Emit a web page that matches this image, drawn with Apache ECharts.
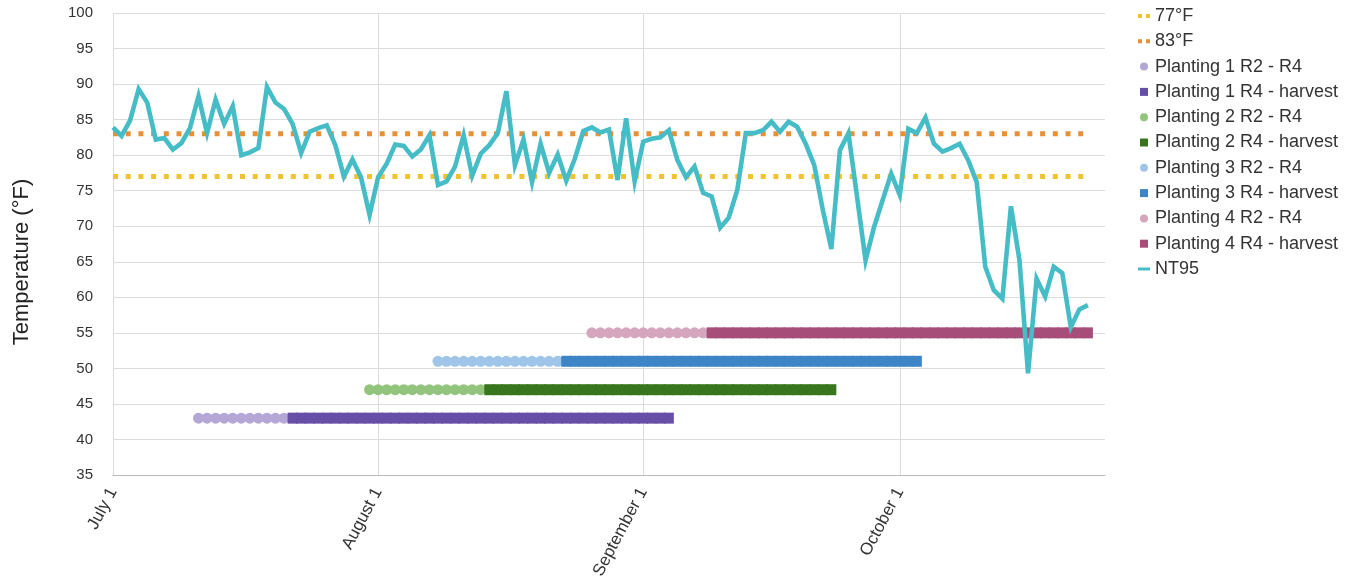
<!DOCTYPE html>
<html>
<head>
<meta charset="utf-8">
<script src="https://cdn.jsdelivr.net/npm/echarts@6/dist/echarts.min.js"></script>
<style>
html,body{margin:0;padding:0;background:#fff;}
#chart{width:1351px;height:586px;}
</style>
</head>
<body>
<div id="chart"></div>
<script>
// ---- Data ----
const startDate = '2023-07-01';
const dayCount = 117; // July 1 .. Oct 25 (category axis days)
const monthTicks = ['7/1', '8/1', '9/1', '10/1'];
const monthTickLabels = ['July 1', 'August 1', 'September 1', 'October 1'];
const yTicks = [35, 40, 45, 50, 55, 60, 65, 70, 75, 80, 85, 90, 95, 100];

const threshold77 = 77;
const threshold83 = 83;

// Daily NT95 temperature (°F), July 1 .. Oct 23
const nt95 = [
  83.9, 82.7, 84.9, 89.3, 87.4, 82.2, 82.4, 80.8, 81.7, 83.8,
  88.3, 83.1, 87.8, 84.4, 86.9, 80.0, 80.4, 81.0, 89.6, 87.4,
  86.5, 84.4, 80.3, 83.3, 83.8, 84.2, 81.4, 77.0, 79.4, 76.9,
  71.6, 76.9, 78.8, 81.5, 81.3, 79.8, 80.8, 82.8, 75.8, 76.3,
  78.4, 82.8, 77.1, 80.2, 81.4, 83.1, 89.0, 78.6, 82.2, 76.2,
  81.6, 77.5, 80.1, 76.4, 79.5, 83.4, 83.9, 83.2, 83.6, 76.5,
  85.2, 76.3, 81.9, 82.3, 82.5, 83.5, 79.3, 76.9, 78.4, 74.7,
  74.2, 69.8, 71.2, 75.1, 83.1, 83.1, 83.5, 84.7, 83.3, 84.7,
  84.0, 81.6, 78.6, 72.3, 66.8, 80.7, 83.1, 74.2, 65.2, 69.9,
  73.7, 77.4, 74.4, 83.7, 83.1, 85.3, 81.6, 80.5, 81.0, 81.6,
  79.3, 76.2, 64.3, 61.0, 59.8, 72.8, 65.2, 49.3, 62.6, 60.1,
  64.3, 63.4, 55.8, 58.3, 58.9
];

// Planting growth stages (M/D), plotted at a fixed height each
const plantingNames = ['Planting 1', 'Planting 2', 'Planting 3', 'Planting 4'];
const plantingLevel = [43, 47, 51, 55];
const r2Start = ['7/11', '7/31', '8/8', '8/26'];
const r4Start = ['7/22', '8/14', '8/23', '9/9'];
const harvestEnd = ['9/4', '9/23', '10/3', '10/23'];

const r2Colors = ['#b4a7d6', '#93c47d', '#9fc5e8', '#d5a6bd'];
const r4Colors = ['#674ea7', '#38761d', '#3d85c6', '#a64d79'];

// ---- Build categories ----
const days = [];
(function () {
  const d0 = new Date(startDate + 'T00:00:00Z');
  for (let i = 0; i < dayCount; i++) {
    const d = new Date(d0.getTime() + i * 86400000);
    days.push((d.getUTCMonth() + 1) + '/' + d.getUTCDate());
  }
})();

function stageRange(from, toExclusive, toInclusive, level) {
  const a = days.indexOf(from);
  const b = toInclusive ? days.indexOf(toExclusive) : days.indexOf(toExclusive) - 1;
  const out = [];
  for (let i = a; i <= b; i++) out.push([days[i], level]);
  return out;
}

const FONT = '"Liberation Sans", Arial, sans-serif';
const isMonthTick = (idx, val) => monthTicks.indexOf(val) >= 0;

const series = [];
const legendData = [];
const dotIcon = 'path://M0,0h4v4h-4z M8,0h4v4h-4z';

series.push({
  name: '77°F', type: 'line', data: nt95.map(() => threshold77),
  symbol: 'none', silent: true,
  lineStyle: { color: '#f1c232', width: 5, type: [5, 7.7], cap: 'butt' },
  itemStyle: { color: '#f1c232' }
});
legendData.push({ name: '77°F', icon: dotIcon });
series.push({
  name: '83°F', type: 'line', data: nt95.map(() => threshold83),
  symbol: 'none', silent: true,
  lineStyle: { color: '#e69138', width: 5, type: [5, 7.7], cap: 'butt' },
  itemStyle: { color: '#e69138' }
});
legendData.push({ name: '83°F', icon: dotIcon });

for (let p = 0; p < plantingNames.length; p++) {
  const n1 = plantingNames[p] + ' R2 - R4';
  const n2 = plantingNames[p] + ' R4 - harvest';
  series.push({
    name: n1, type: 'scatter', symbol: 'circle', symbolSize: 11,
    data: stageRange(r2Start[p], r4Start[p], false, plantingLevel[p]),
    itemStyle: { color: r2Colors[p], opacity: 1 }, silent: true
  });
  series.push({
    name: n2, type: 'scatter', symbol: 'rect', symbolSize: [10, 11],
    data: stageRange(r4Start[p], harvestEnd[p], true, plantingLevel[p]),
    itemStyle: { color: r4Colors[p], opacity: 1 }, silent: true
  });
  legendData.push({ name: n1, icon: 'circle' });
  legendData.push({ name: n2, icon: 'path://M0,0h7v7h-7z' });
}

series.push({
  name: 'NT95', type: 'line', data: nt95, symbol: 'none', silent: true,
  lineStyle: { color: '#46bdc6', width: 4.6, join: 'miter', miterLimit: 6 },
  itemStyle: { color: '#46bdc6' }
});
legendData.push({ name: 'NT95', icon: 'path://M0,0h12v3h-12z' });

const chart = echarts.init(document.getElementById('chart'), null, { renderer: 'canvas' });
chart.setOption({
  animation: false,
  backgroundColor: '#fff',
  textStyle: { fontFamily: FONT },
  grid: { left: 113, right: 246, top: 13, bottom: 111 },
  legend: {
    orient: 'vertical', left: 1133, top: 2,
    itemWidth: 12, itemHeight: 8, itemGap: 7.3,
    textStyle: { fontFamily: FONT, fontSize: 18, color: '#333' },
    data: legendData, selectedMode: false
  },
  xAxis: {
    type: 'category', data: days, boundaryGap: false,
    axisLine: { show: true, lineStyle: { color: '#bbb', width: 1 } },
    axisTick: { show: false },
    axisLabel: {
      interval: isMonthTick, rotate: 62, margin: 14,
      fontFamily: FONT, fontSize: 17, color: '#333',
      formatter: (v) => monthTickLabels[monthTicks.indexOf(v)]
    },
    splitLine: { show: true, interval: isMonthTick, lineStyle: { color: '#dcdcdc', width: 1 } }
  },
  yAxis: {
    type: 'value', min: yTicks[0], max: yTicks[yTicks.length - 1], interval: 5,
    name: 'Temperature (°F)', nameLocation: 'middle', nameGap: 80,
    nameTextStyle: { fontFamily: FONT, fontSize: 22, color: '#222', padding: [0, 36, 0, 0] },
    axisLine: { show: false }, axisTick: { show: false },
    axisLabel: { margin: 20, fontFamily: FONT, fontSize: 15, color: '#333' },
    splitLine: { show: true, lineStyle: { color: '#dcdcdc', width: 1 } }
  },
  series: series
});
</script>
</body>
</html>
